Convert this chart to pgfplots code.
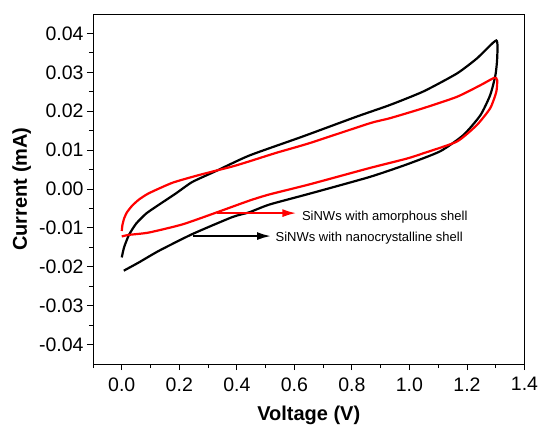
\documentclass[border=0pt]{standalone}
\usepackage{fontspec}
\setmainfont{Liberation Sans}
\usepackage{pgfplots}
\pgfplotsset{compat=1.18}
\usetikzlibrary{arrows.meta}

% nanocrystalline shell: forward scan (upper) then reverse (lower)
\pgfplotstableread{
x y
0.000 -0.0176
0.008 -0.0150
0.025 -0.0118
0.050 -0.0089
0.085 -0.0063
0.130 -0.0040
0.187 -0.0012
0.245 0.0018
0.327 0.0046
0.443 0.0086
0.629 0.0135
0.816 0.0186
0.932 0.0216
1.049 0.0251
1.165 0.0297
1.235 0.0336
1.302 0.0382
1.305 0.0336
1.299 0.0293
1.281 0.0242
1.247 0.0190
1.188 0.0139
1.107 0.0097
0.990 0.0063
0.862 0.0031
0.653 -0.0012
0.513 -0.0040
0.443 -0.0060
0.385 -0.0072
0.245 -0.0116
0.129 -0.0159
0.059 -0.0189
0.007 -0.0210
}\nanodata

% amorphous shell
\pgfplotstableread{
x y
0.000 -0.0108
0.002 -0.0094
0.008 -0.0076
0.018 -0.0060
0.036 -0.0043
0.060 -0.0027
0.094 -0.0011
0.176 0.0016
0.269 0.0036
0.385 0.0058
0.443 0.0071
0.537 0.0093
0.653 0.0118
0.862 0.0169
0.932 0.0182
1.049 0.0208
1.165 0.0237
1.247 0.0267
1.295 0.0286
1.305 0.0280
1.302 0.0250
1.281 0.0208
1.235 0.0165
1.165 0.0122
1.049 0.0092
0.990 0.0078
0.862 0.0054
0.653 0.0012
0.513 -0.0014
0.443 -0.0030
0.327 -0.0061
0.211 -0.0091
0.094 -0.0112
0.024 -0.0118
0.000 -0.0122
}\amorphdata

\begin{document}
\begin{tikzpicture}
\path[use as bounding box] (0,0) rectangle (540pt,426pt);
\begin{axis}[
  at={(93pt,62pt)}, anchor=south west,
  scale only axis, width=431.5pt, height=350pt,
  xmin=-0.1, xmax=1.4, ymin=-0.045, ymax=0.045,
  xtick={0,0.2,0.4,0.6,0.8,1.0,1.2,1.4},
  minor xtick={-0.1,0.1,0.3,0.5,0.7,0.9,1.1,1.3},
  ytick={-0.04,-0.03,-0.02,-0.01,0,0.01,0.02,0.03,0.04},
  minor ytick={-0.035,-0.025,-0.015,-0.005,0.005,0.015,0.025,0.035},
  scaled y ticks=false, scaled x ticks=false,
  xtick pos=bottom, ytick pos=left, tick align=outside,
  major tick length=6pt, minor tick length=4pt,
  every tick/.style={black, line width=0.9pt},
  axis line style={line width=0.9pt},
  /pgf/number format/assume math mode=true,
  xticklabel style={/pgf/number format/fixed, /pgf/number format/fixed zerofill,
    /pgf/number format/precision=1, yshift=-4pt},
  yticklabel style={/pgf/number format/fixed, /pgf/number format/fixed zerofill,
    /pgf/number format/precision=2},
  tick label style={font=\fontsize{19.5}{23}\selectfont},
  xlabel={Voltage (V)}, ylabel={Current (mA)},
  label style={font=\fontsize{20}{24}\selectfont\bfseries},
  xlabel style={at={(axis description cs:0.5,-0.146)}, anchor=center},
  ylabel style={at={(axis description cs:-0.165,0.5)}, anchor=center},
  clip=false,
]
\addplot[black, line width=2.2pt, smooth, tension=0.35] table {\nanodata};
\addplot[red, line width=2.2pt, smooth, tension=0.35] table {\amorphdata};

\draw[red, line width=2pt, -{Latex[length=14pt,width=8pt]}]
  (axis cs:0.33,-0.0062) -- (axis cs:0.607,-0.0062);
\draw[black, line width=2pt, -{Latex[length=14pt,width=8pt]}]
  (axis cs:0.246,-0.0121) -- (axis cs:0.519,-0.0121);
\node[anchor=base west, inner sep=0pt, font=\fontsize{13}{15}\selectfont]
  at (axis cs:0.626,-0.0081) {SiNWs with amorphous shell};
\node[anchor=base west, inner sep=0pt, font=\fontsize{13}{15}\selectfont]
  at (axis cs:0.534,-0.0136) {SiNWs with nanocrystalline shell};
\end{axis}
\end{tikzpicture}
\end{document}
